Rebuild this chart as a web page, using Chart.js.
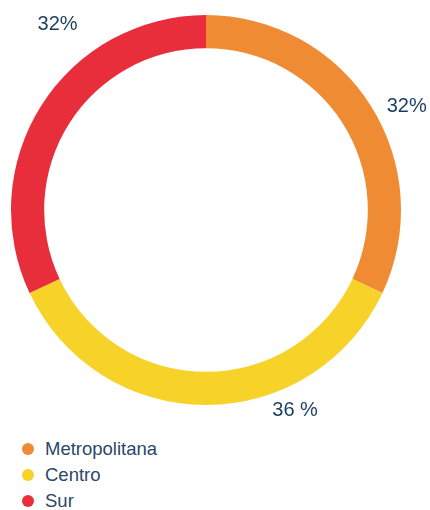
<!DOCTYPE html>
<html>
<head>
<meta charset="utf-8">
<script src="https://cdn.jsdelivr.net/npm/chart.js@4/dist/chart.umd.min.js"></script>
<style>
  html, body { margin: 0; padding: 0; background: #fff; }
  body { width: 430px; height: 510px; position: relative; font-family: "Liberation Sans", Arial, sans-serif; }
  #wrap { position: absolute; left: 0; top: 0; width: 430px; height: 420px; }
  #legend { position: absolute; left: 22px; top: 436px; margin: 0; padding: 0; list-style: none; }
  #legend li { height: 26px; line-height: 24px; font-size: 18.5px; color: #2a4868; display: flex; align-items: center; }
  #legend .dot { width: 12px; height: 12px; border-radius: 50%; margin-right: 11px; }
</style>
</head>
<body>
<div id="wrap"><canvas id="chart" width="430" height="420"></canvas></div>
<ul id="legend"></ul>
<script>
  const labels = ["Metropolitana", "Centro", "Sur"];
  const values = [32, 36, 32];
  const valueLabels = ["32%", "36 %", "32%"];
  const colors = ["#EF8B33", "#F7D32A", "#E82D3B"];
  // where each percentage sits: angle offset from slice middle (deg) and distance from centre
  const labelAngleShift = [5, -24, 19];
  const labelDist = [226, 219, 238];

  // legend
  const legendEl = document.getElementById("legend");
  labels.forEach((l, i) => {
    const li = document.createElement("li");
    li.innerHTML = `<span class="dot" style="background:${colors[i]}"></span>${l}`;
    legendEl.appendChild(li);
  });

  const pctLabels = {
    id: "pctLabels",
    afterDatasetsDraw(chart) {
      const ctx = chart.ctx;
      const meta = chart.getDatasetMeta(0);
      ctx.save();
      ctx.font = "20px 'Liberation Sans', Arial, sans-serif";
      ctx.fillStyle = "#1d3d5e";
      ctx.textAlign = "center";
      ctx.textBaseline = "middle";
      meta.data.forEach((arc, i) => {
        const { x, y, startAngle, endAngle } = arc.getProps(["x", "y", "startAngle", "endAngle"], true);
        const a = (startAngle + endAngle) / 2 + labelAngleShift[i] * Math.PI / 180;
        ctx.fillText(valueLabels[i], x + Math.cos(a) * labelDist[i], y + Math.sin(a) * labelDist[i]);
      });
      ctx.restore();
    }
  };

  new Chart(document.getElementById("chart").getContext("2d"), {
    type: "doughnut",
    data: {
      labels,
      datasets: [{
        data: values,
        backgroundColor: colors,
        borderWidth: 0,
      }],
    },
    options: {
      responsive: false,
      animation: false,
      cutout: "83%",
      layout: { padding: { left: 11, right: 29, top: 15, bottom: 15 } },
      plugins: { legend: { display: false }, tooltip: { enabled: false } },
    },
    plugins: [pctLabels],
  });
</script>
</body>
</html>
